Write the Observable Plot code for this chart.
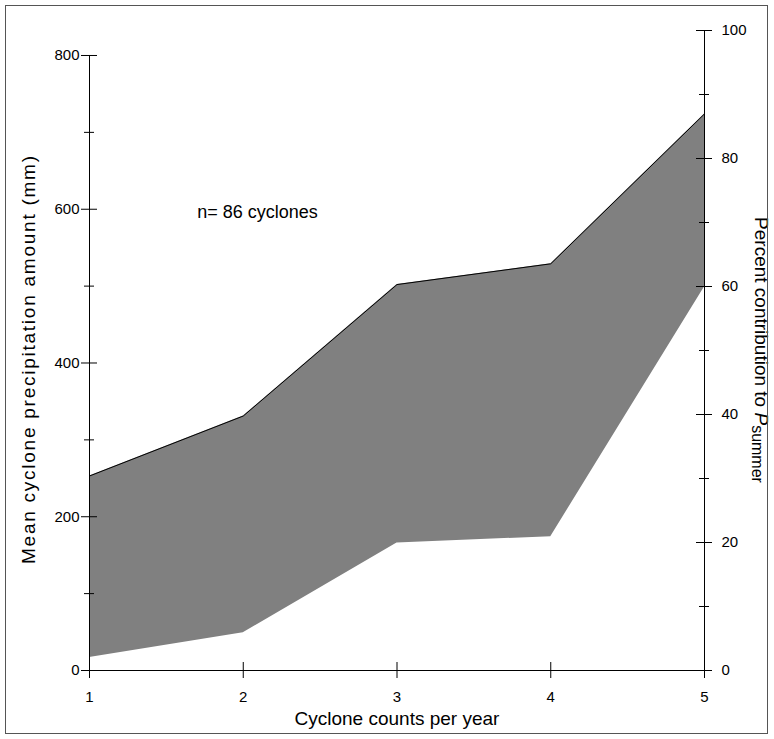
<!DOCTYPE html>
<html>
<head>
<meta charset="utf-8">
<script src="https://cdn.jsdelivr.net/npm/d3@7"></script>
<script src="https://cdn.jsdelivr.net/npm/@observablehq/plot@0.6"></script>
<style>
  body { margin: 0; background: #fff; }
  #wrap { position: relative; width: 774px; height: 739px; }
  #border { position: absolute; left: 5px; top: 5px; width: 763px; height: 729px; border: 1px solid #555; box-sizing: border-box; pointer-events: none; }
  svg { font-family: "Liberation Sans", Arial, sans-serif; }
</style>
</head>
<body>
<div id="wrap"><div id="border"></div></div>
<script>
// Data
const counts = [1, 2, 3, 4, 5];
const upperMm = [253, 331, 502, 529, 724];
const lowerMm = [17, 49, 166, 174, 499];

// Axis ticks
const xTicks = [1, 2, 3, 4, 5];
const leftMajor = [0, 200, 400, 600, 800];
const leftMinor = [100, 300, 500, 700];
const rightMajor = [0, 20, 40, 60, 80, 100];
const rightMinor = [10, 30, 50, 70, 90];

// Texts
const annotation = "n= 86 cyclones";
const xTitle = "Cyclone counts per year";
const yTitle = "Mean cyclone precipitation amount (mm)";

// mm per percent on the shared vertical scale (right axis 100% sits above 800 mm)
const k = 8.325;

const rows = counts.map((c, i) => ({count: c, upper: upperMm[i], lower: lowerMm[i]}));
const rMaj = rightMajor.map(p => ({p, v: p * k}));
const rMin = rightMinor.map(p => ({p, v: p * k}));

const plot = Plot.plot({
  width: 774,
  height: 739,
  marginLeft: 89,
  marginRight: 70,
  marginTop: 30,
  marginBottom: 69,
  style: {fontFamily: "'Liberation Sans', Arial, sans-serif", fontSize: "15px", color: "#000", background: "#fff"},
  x: {domain: [1, 5], axis: null},
  y: {domain: [0, 100 * k], axis: null},
  marks: [
    Plot.areaY(rows, {x: "count", y1: "lower", y2: "upper", fill: "#808080"}),
    Plot.lineY(rows, {x: "count", y: "upper", stroke: "#000", strokeWidth: 1}),
    // axis lines
    Plot.ruleX([1], {y1: 0, y2: 800, stroke: "#000"}),
    Plot.ruleX([5], {y1: 0, y2: 100 * k, stroke: "#000"}),
    Plot.ruleY([0], {x1: 1, x2: 5, stroke: "#000"}),
    // left axis ticks (crossing the axis line)
    Plot.ruleY(leftMajor, {y: d => d, x1: 1, x2: 1, insetLeft: -8, insetRight: -8, stroke: "#000"}),
    Plot.ruleY(leftMinor, {y: d => d, x1: 1, x2: 1, insetLeft: -5, insetRight: -5, stroke: "#000"}),
    Plot.text(leftMajor, {x: 1, y: d => d, text: d => String(d), dx: -10, textAnchor: "end", fontSize: 15, fill: "#000"}),
    // right axis ticks
    Plot.ruleY(rMaj, {y: "v", x1: 5, x2: 5, insetLeft: -8, insetRight: -8, stroke: "#000"}),
    Plot.ruleY(rMin, {y: "v", x1: 5, x2: 5, insetLeft: -5, insetRight: -5, stroke: "#000"}),
    Plot.text(rMaj, {x: 5, y: "v", text: d => String(d.p), dx: 17, textAnchor: "start", fontSize: 15, fill: "#000"}),
    // bottom axis ticks
    Plot.ruleX(xTicks, {x: d => d, y1: 0, y2: 0, insetTop: -8, insetBottom: -8, stroke: "#000"}),
    Plot.text(xTicks, {x: d => d, y: 0, text: d => String(d), dy: 27, fontSize: 15, fill: "#000"}),
    // annotation
    Plot.text([annotation], {x: 1.70, y: 596, text: d => d, textAnchor: "start", fontSize: 18, fill: "#000"})
  ]
});

const svg = d3.select(plot);
// x axis title
svg.append("text")
  .attr("x", 397).attr("y", 725)
  .attr("text-anchor", "middle")
  .attr("font-size", 19)
  .attr("fill", "#000")
  .text(xTitle);
// left axis title
svg.append("text")
  .attr("transform", "translate(35,360) rotate(-90)")
  .attr("text-anchor", "middle")
  .attr("font-size", 19)
  .attr("textLength", 408)
  .attr("lengthAdjust", "spacing")
  .attr("fill", "#000")
  .text(yTitle);
// Right axis title with italic P and subscript
const t = svg.append("text")
  .attr("transform", "translate(755,350) rotate(90)")
  .attr("text-anchor", "middle")
  .attr("font-size", 19)
  .attr("fill", "#000");
t.append("tspan").text("Percent contribution to ");
t.append("tspan").attr("font-style", "italic").text("P");
t.append("tspan").attr("font-size", 16).attr("baseline-shift", "-3").text("summer");

document.getElementById("wrap").prepend(plot);
</script>
</body>
</html>
